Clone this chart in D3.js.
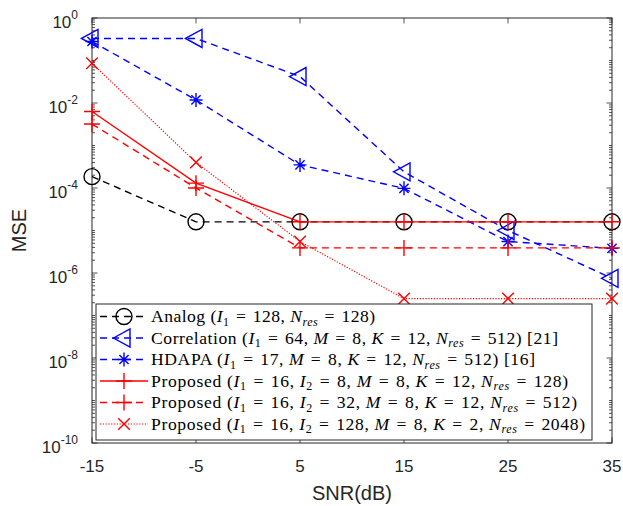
<!DOCTYPE html>
<html>
<head>
<meta charset="utf-8">
<script src="https://cdn.jsdelivr.net/npm/d3@7"></script>
<style>
  html, body { margin: 0; padding: 0; background: #fff; }
  svg { display: block; }
</style>
</head>
<body>
<svg id="chart" width="623" height="506"></svg>
<script>
// SNR points (dB)
const snr = [-15, -5, 5, 15, 25, 35];

// MSE of each scheme at the SNR points
const analog      = [1.85e-4, 1.6e-5, 1.6e-5, 1.6e-5, 1.6e-5, 1.6e-5];
const correlation = [0.33, 0.33, 0.042, 2.4e-4, 1.0e-5, 7.5e-7];
const hdapa       = [0.28, 0.0118, 3.5e-4, 9.8e-5, 5.5e-6, 3.8e-6];
const proposed8   = [6.3e-3, 1.3e-4, 1.6e-5, 1.6e-5, 1.6e-5, 1.6e-5];
const proposed32  = [3.2e-3, 1.0e-4, 3.9e-6, 3.9e-6, 3.9e-6, 3.9e-6];
const proposed128 = [0.086, 4.0e-4, 5.5e-6, 2.5e-7, 2.5e-7, 2.5e-7];

// Axis ticks
const xTicks = [-15, -5, 5, 15, 25, 35];
const yTickExps = [0, -2, -4, -6, -8, -10];

// Legend labels: arrays of [text, style] pieces (style: n normal, i italic, s subscript, si italic subscript)
const legendLabels = [
  [["Analog (", "n"], ["I", "i"], ["1", "s"], [" = 128, ", "n"], ["N", "i"], ["res", "si"], [" = 128)", "n"]],
  [["Correlation (", "n"], ["I", "i"], ["1", "s"], [" = 64, ", "n"], ["M", "i"], [" = 8, ", "n"], ["K", "i"], [" = 12, ", "n"], ["N", "i"], ["res", "si"], [" = 512) [21]", "n"]],
  [["HDAPA (", "n"], ["I", "i"], ["1", "s"], [" = 17, ", "n"], ["M", "i"], [" = 8, ", "n"], ["K", "i"], [" = 12, ", "n"], ["N", "i"], ["res", "si"], [" = 512) [16]", "n"]],
  [["Proposed (", "n"], ["I", "i"], ["1", "s"], [" = 16, ", "n"], ["I", "i"], ["2", "s"], [" = 8, ", "n"], ["M", "i"], [" = 8, ", "n"], ["K", "i"], [" = 12, ", "n"], ["N", "i"], ["res", "si"], [" = 128)", "n"]],
  [["Proposed (", "n"], ["I", "i"], ["1", "s"], [" = 16, ", "n"], ["I", "i"], ["2", "s"], [" = 32, ", "n"], ["M", "i"], [" = 8, ", "n"], ["K", "i"], [" = 12, ", "n"], ["N", "i"], ["res", "si"], [" = 512)", "n"]],
  [["Proposed (", "n"], ["I", "i"], ["1", "s"], [" = 16, ", "n"], ["I", "i"], ["2", "s"], [" = 128, ", "n"], ["M", "i"], [" = 8, ", "n"], ["K", "i"], [" = 2, ", "n"], ["N", "i"], ["res", "si"], [" = 2048)", "n"]]
];
// Right end (px) of each legend entry's text
const legendTextEnds = [375, 558, 535, 568, 577, 585];

const series = [
  { values: analog,      color: "#000000", dash: "7,5",   width: 1.4, marker: "circle" },
  { values: correlation, color: "#0000ff", dash: "7,5",   width: 1.4, marker: "triangleLeft" },
  { values: hdapa,       color: "#0000ff", dash: "7,5",   width: 1.4, marker: "asterisk" },
  { values: proposed8,   color: "#ff0000", dash: null,    width: 1.4, marker: "plus" },
  { values: proposed32,  color: "#ff0000", dash: "7,5",   width: 1.4, marker: "plus" },
  { values: proposed128, color: "#ff0000", dash: "1.2,1.6", width: 1.2, marker: "cross" }
];

const svg = d3.select("#chart");
const plotL = 92, plotR = 612, plotT = 18, plotB = 443;

const x = d3.scaleLinear().domain([-15, 35]).range([plotL, plotR]);
const y = d3.scaleLog().domain([1e-10, 1]).range([plotB, plotT]);

const axisColor = "#262626";
const tickFont = "'Liberation Sans', Arial, sans-serif";

// Plot background
svg.append("rect").attr("x", plotL).attr("y", plotT)
  .attr("width", plotR - plotL).attr("height", plotB - plotT).attr("fill", "#fff");

// Ticks drawn inward on all four sides
const tickG = svg.append("g").attr("stroke", axisColor).attr("stroke-width", 0.8);
xTicks.forEach(t => {
  const px = x(t);
  tickG.append("line").attr("x1", px).attr("x2", px).attr("y1", plotB).attr("y2", plotB - 5.5);
  tickG.append("line").attr("x1", px).attr("x2", px).attr("y1", plotT).attr("y2", plotT + 5.5);
});
for (let e = -10; e <= 0; e++) {
  const major = yTickExps.includes(e);
  const len = major ? 5.5 : 3;
  const py = y(Math.pow(10, e));
  tickG.append("line").attr("x1", plotL).attr("x2", plotL + len).attr("y1", py).attr("y2", py);
  tickG.append("line").attr("x1", plotR).attr("x2", plotR - len).attr("y1", py).attr("y2", py);
  if (e < 0) {
    for (let m = 2; m <= 9; m++) {
      const pm = y(m * Math.pow(10, e));
      tickG.append("line").attr("x1", plotL).attr("x2", plotL + 3).attr("y1", pm).attr("y2", pm);
      tickG.append("line").attr("x1", plotR).attr("x2", plotR - 3).attr("y1", pm).attr("y2", pm);
    }
  }
}

// Axes box
svg.append("rect").attr("x", plotL).attr("y", plotT)
  .attr("width", plotR - plotL).attr("height", plotB - plotT)
  .attr("fill", "none").attr("stroke", axisColor).attr("stroke-width", 1);

// X tick labels
svg.append("g").selectAll("text").data(xTicks).join("text")
  .attr("x", d => x(d)).attr("y", plotB + 29)
  .attr("text-anchor", "middle")
  .attr("font-family", tickFont).attr("font-size", 17).attr("fill", axisColor)
  .text(d => d);

// Y tick labels: 10 with superscript exponent
const yLab = svg.append("g").attr("font-family", tickFont).attr("fill", axisColor);
yTickExps.forEach(e => {
  const py = y(Math.pow(10, e));
  const t = yLab.append("text").attr("x", 78).attr("y", py + 10).attr("text-anchor", "end");
  t.append("tspan").attr("font-size", 17).text("10");
  t.append("tspan").attr("font-size", 12).attr("dy", -9).text(e === 0 ? "0" : "-" + Math.abs(e));
});

// Axis titles
svg.append("text").attr("x", (plotL + plotR) / 2).attr("y", 500)
  .attr("text-anchor", "middle").attr("font-family", tickFont).attr("font-size", 20)
  .attr("fill", axisColor).text("SNR(dB)");
svg.append("text").attr("transform", `translate(26,${(plotT + plotB) / 2}) rotate(-90)`)
  .attr("text-anchor", "middle").attr("font-family", tickFont).attr("font-size", 20)
  .attr("fill", axisColor).text("MSE");

// Marker drawing
function drawMarker(g, kind, cx, cy, color) {
  const s = { fill: "none", stroke: color, "stroke-width": 1.4 };
  const apply = sel => { Object.entries(s).forEach(([k, v]) => sel.attr(k, v)); return sel; };
  if (kind === "circle") {
    apply(g.append("circle").attr("cx", cx).attr("cy", cy).attr("r", 8));
  } else if (kind === "triangleLeft") {
    apply(g.append("path").attr("d", `M${cx - 10.5},${cy} L${cx + 6},${cy - 9} L${cx + 6},${cy + 9} Z`));
  } else if (kind === "asterisk") {
    const r = 6.5, d = r * 0.707;
    apply(g.append("path").attr("d",
      `M${cx - r},${cy} L${cx + r},${cy} M${cx},${cy - r - 0.5} L${cx},${cy + r + 0.5} ` +
      `M${cx - d},${cy - d} L${cx + d},${cy + d} M${cx - d},${cy + d} L${cx + d},${cy - d}`));
  } else if (kind === "plus") {
    const r = 8;
    apply(g.append("path").attr("d", `M${cx - r},${cy} L${cx + r},${cy} M${cx},${cy - r} L${cx},${cy + r}`));
  } else if (kind === "cross") {
    const r = 5.8;
    apply(g.append("path").attr("d", `M${cx - r},${cy - r} L${cx + r},${cy + r} M${cx - r},${cy + r} L${cx + r},${cy - r}`));
  }
}

// Series lines and markers
const line = d3.line().x(d => x(d[0])).y(d => y(d[1]));
const plot = svg.append("g");
series.forEach(sr => {
  const pts = snr.map((s, i) => [s, sr.values[i]]);
  const g = plot.append("g");
  g.append("path").attr("d", line(pts)).attr("fill", "none")
    .attr("stroke", sr.color).attr("stroke-width", sr.width)
    .attr("stroke-dasharray", sr.dash);
  pts.forEach(p => drawMarker(g, sr.marker, x(p[0]), y(p[1]), sr.color));
});

// Legend
const lg = svg.append("g");
const lgX = 96, lgY = 304, lgW = 496, lgH = 136;
lg.append("rect").attr("x", lgX).attr("y", lgY).attr("width", lgW).attr("height", lgH)
  .attr("fill", "#fff").attr("stroke", axisColor).attr("stroke-width", 1);
const rowH = 21.5, row0 = 316.5, textX = 151;
const subDrop = 3.5;
series.forEach((sr, i) => {
  const cy = row0 + i * rowH;
  lg.append("line").attr("x1", 100).attr("x2", 148).attr("y1", cy).attr("y2", cy)
    .attr("stroke", sr.color).attr("stroke-width", sr.width).attr("stroke-dasharray", sr.dash);
  drawMarker(lg, sr.marker, 124, cy, sr.color);
  const t = lg.append("text").attr("x", textX).attr("y", cy + 5.5)
    .attr("font-family", "'Liberation Serif', 'Times New Roman', serif")
    .attr("font-size", 17.6).attr("fill", "#000")
    .attr("textLength", legendTextEnds[i] - textX)
    .attr("lengthAdjust", "spacing");
  let cur = 0;
  legendLabels[i].forEach(([txt, st]) => {
    const sub = st === "s" || st === "si";
    const target = sub ? subDrop : 0;
    // split plain text around "=" so the relation sign gets some extra room
    const parts = sub ? [txt] : txt.split("=");
    parts.forEach((part, k) => {
      if (k > 0) {
        const eq = t.append("tspan").text("=").attr("dx", 1.6);
        if (cur !== target) { eq.attr("dy", target - cur); cur = target; }
      }
      if (part === "") return;
      const ts = t.append("tspan").text(part).attr("xml:space", "preserve");
      if (k > 0) ts.attr("dx", 1.6);
      if (st === "i" || st === "si") ts.attr("font-style", "italic");
      if (sub) ts.attr("font-size", 12);
      if (cur !== target) { ts.attr("dy", target - cur); cur = target; }
    });
  });
});
</script>
</body>
</html>
